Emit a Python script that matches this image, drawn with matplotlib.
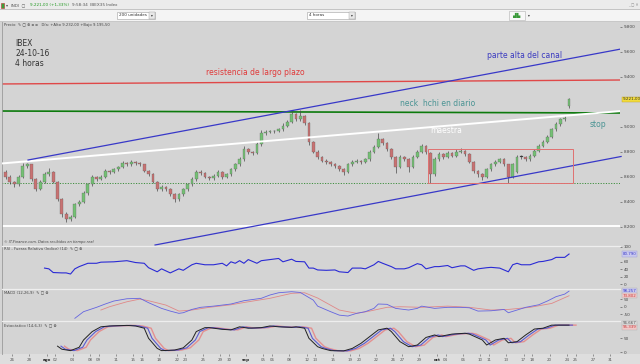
import matplotlib
matplotlib.use('Agg')
import matplotlib.pyplot as plt
from matplotlib.patches import Rectangle

# IBEX 35, 4 hour bars, 25 jul - 24 oct 2016
opens = [8640, 8600, 8560, 8540, 8600, 8690, 8700, 8580, 8500, 8560,
         8620, 8640, 8560, 8420, 8300, 8260, 8280, 8380, 8400, 8470,
         8540, 8600, 8580, 8600, 8650, 8640, 8660, 8680, 8710, 8700,
         8720, 8710, 8700, 8650, 8620, 8560, 8500, 8520, 8500, 8460,
         8420, 8460, 8500, 8540, 8580, 8640, 8630, 8600, 8590, 8610,
         8640, 8600, 8620, 8660, 8700, 8740, 8820, 8800, 8790, 8860,
         8950, 8960, 8965, 8970, 8980, 9010, 9040, 9100, 9060, 9090,
         9030, 8880, 8800, 8760, 8730, 8720, 8700, 8690, 8660, 8640,
         8700, 8720, 8730, 8720, 8740, 8800, 8840, 8900, 8870, 8820,
         8760, 8680, 8760, 8740, 8680, 8760, 8800, 8850, 8790, 8620,
         8740, 8780, 8760, 8790, 8770, 8800, 8810, 8780, 8720, 8650,
         8620, 8600, 8660, 8700, 8720, 8740, 8700, 8600, 8640, 8760,
         8760, 8740, 8770, 8810, 8850, 8880, 8920, 8980, 9020, 9060,
         9165]
highs = [8655, 8615, 8570, 8620, 8712, 8715, 8705, 8590, 8580, 8640,
         8672, 8650, 8565, 8430, 8320, 8300, 8395, 8420, 8490, 8555,
         8616, 8610, 8615, 8668, 8660, 8675, 8690, 8725, 8722, 8735,
         8730, 8720, 8705, 8660, 8630, 8570, 8540, 8530, 8510, 8470,
         8475, 8515, 8555, 8600, 8660, 8655, 8640, 8610, 8625, 8655,
         8650, 8635, 8672, 8715, 8760, 8850, 8830, 8810, 8880, 8976,
         8975, 8975, 8980, 8995, 9030, 9060, 9130, 9115, 9136, 9100,
         9040, 8890, 8815, 8770, 8745, 8730, 8710, 8700, 8670, 8715,
         8735, 8745, 8740, 8755, 8815, 8855, 8950, 8910, 8880, 8830,
         8770, 8780, 8770, 8750, 8775, 8815, 8868, 8860, 8800, 8760,
         8800, 8790, 8810, 8800, 8822, 8830, 8820, 8790, 8730, 8660,
         8630, 8675, 8715, 8735, 8755, 8750, 8705, 8710, 8775, 8780,
         8770, 8785, 8825, 8865, 8895, 8935, 8995, 9040, 9075, 9085,
         9232]
lows = [8585, 8545, 8520, 8530, 8590, 8675, 8570, 8490, 8495, 8550,
        8605, 8550, 8410, 8280, 8240, 8250, 8270, 8365, 8390, 8460,
        8530, 8570, 8575, 8590, 8625, 8630, 8650, 8672, 8690, 8692,
        8700, 8688, 8640, 8605, 8550, 8485, 8490, 8485, 8450, 8400,
        8410, 8450, 8492, 8530, 8570, 8615, 8590, 8575, 8580, 8600,
        8585, 8592, 8612, 8650, 8690, 8730, 8785, 8780, 8782, 8850,
        8940, 8950, 8955, 8960, 8970, 9000, 9030, 9045, 9050, 9020,
        8860, 8790, 8745, 8720, 8705, 8690, 8675, 8650, 8620, 8632,
        8690, 8710, 8708, 8712, 8730, 8790, 8830, 8855, 8805, 8745,
        8630, 8670, 8730, 8640, 8672, 8750, 8790, 8785, 8552, 8610,
        8730, 8745, 8752, 8760, 8762, 8790, 8770, 8710, 8635, 8600,
        8580, 8592, 8650, 8690, 8710, 8690, 8552, 8590, 8630, 8745,
        8730, 8732, 8762, 8800, 8840, 8870, 8910, 8970, 9010, 9050,
        9155]
closes = [8600, 8560, 8540, 8600, 8690, 8700, 8580, 8500, 8560, 8620,
          8640, 8560, 8420, 8300, 8260, 8280, 8380, 8400, 8470, 8540,
          8600, 8580, 8600, 8650, 8640, 8660, 8680, 8710, 8700, 8720,
          8710, 8700, 8650, 8620, 8560, 8500, 8520, 8500, 8460, 8420,
          8460, 8500, 8540, 8580, 8640, 8630, 8600, 8590, 8610, 8640,
          8600, 8620, 8660, 8700, 8740, 8820, 8800, 8790, 8860, 8950,
          8960, 8965, 8970, 8980, 9010, 9040, 9100, 9060, 9090, 9030,
          8880, 8800, 8760, 8730, 8720, 8700, 8690, 8660, 8640, 8700,
          8720, 8730, 8720, 8740, 8800, 8840, 8900, 8870, 8820, 8760,
          8680, 8760, 8740, 8680, 8760, 8800, 8850, 8800, 8620, 8740,
          8780, 8760, 8790, 8770, 8800, 8810, 8780, 8720, 8650, 8620,
          8600, 8660, 8700, 8720, 8740, 8700, 8600, 8700, 8760, 8760,
          8740, 8770, 8810, 8850, 8880, 8920, 8980, 9020, 9060, 9070,
          9221]

# indicators (bar index, value)
rsi_bar = [9, 10, 11, 13, 14, 15, 16, 17, 19, 21, 22, 25, 28, 30, 32, 33, 35, 36, 38, 40,
           41, 43, 44, 46, 48, 50, 51, 52, 53, 54, 55, 56, 58, 59, 61, 63, 64, 66, 67, 69,
           70, 71, 72, 74, 76, 77, 79, 80, 82, 83, 85, 86, 87, 89, 90, 92, 93, 95, 96, 97,
           99, 100, 102, 103, 105, 106, 108, 109, 111, 112, 114, 116, 117, 118, 119, 121,
           123, 124, 126, 127, 129, 130]
rsi_val = [43, 41, 31, 30, 30, 27, 41, 47, 56, 56, 59, 60, 63, 58, 56, 44, 33, 41, 30, 41,
           37, 52, 56, 52, 52, 56, 49, 60, 56, 63, 56, 66, 56, 63, 66, 69, 60, 67, 61, 60,
           43, 43, 38, 37, 38, 33, 31, 43, 43, 41, 52, 61, 56, 47, 41, 41, 44, 55, 52, 41,
           47, 47, 50, 44, 49, 49, 37, 41, 44, 45, 43, 33, 52, 56, 52, 52,
           60, 61, 66, 72, 72, 81]
macd_bar = [16, 18, 21, 23, 25, 28, 31, 33, 36, 38, 40, 41, 43, 45, 48, 52, 55, 59, 61, 63,
            66, 68, 69, 71, 72, 75, 77, 79, 81, 83, 85, 86, 88, 90, 93, 95, 96, 99, 102, 105,
            107, 109, 112, 115, 116, 118, 120, 123, 125, 127, 129, 130]
macd_val = [-77, -33, -4, 18, 38, 53, 56, 27, -11, -29, -44, -40, -18, -4, 4, 18, 40, 56, 78, 93,
            100, 95, 78, 44, 4, -33, -56, -62, -44, -33, -11, 18, 16, -11, -22, -11, 4, -11, -4, -4,
            -7, -29, -27, -18, -40, -22, -4, 13, 38, 67, 84, 104]
signal_bar = [22, 24, 28, 31, 33, 37, 40, 43, 47, 52, 56, 61, 66, 69, 72, 77, 81, 84, 88, 91,
              96, 102, 107, 112, 116, 121, 126, 130]
signal_val = [-22, 0, 33, 51, 40, 11, -29, -22, -4, 13, 33, 56, 89, 93, 58, -22, -44, -29, -4, 0,
              -4, 4, -4, -22, -18, -4, 22, 73]
stoch_bar = [12, 13, 15, 17, 18, 20, 22, 24, 28, 30, 32, 33, 35, 36, 39, 41, 43, 44, 46, 47,
             50, 52, 54, 56, 59, 61, 63, 66, 67, 69, 70, 72, 73, 75, 78, 80, 82, 84, 86, 88,
             89, 91, 93, 95, 97, 99, 100, 103, 106, 107, 110, 111, 113, 115, 116, 118, 120, 122,
             124, 126, 130]
stoch_val = [21, 10, 5, 17, 43, 73, 90, 93, 95, 93, 85, 49, 13, 5, 7, 15, 43, 73, 87, 87,
             81, 79, 90, 85, 87, 93, 90, 88, 90, 85, 49, 19, 13, 5, 4, 13, 31, 55, 79, 85,
             73, 37, 19, 25, 52, 61, 55, 64, 67, 64, 43, 25, 43, 49, 33, 37, 61, 82,
             85, 96, 96]

# x axis labels: trading day number (2 bars a day) and text
date_day = [1, 3, 5, 6, 8, 10, 11, 13, 15, 16, 18, 20, 21, 23, 25, 26, 28, 30, 31, 33,
            35, 36, 38, 40, 41, 43, 45, 46, 48, 50, 51, 53, 55, 56, 58, 60, 61, 63, 65, 66, 68, 70]
date_text = ['26', '28', 'ago', '02', '04', '08', '09', '11', '15', '16', '18', '22', '23', '25',
             '29', '30', 'sep', '05', '06', '08', '12', '13', '15', '19', '20', '22', '26', '27',
             '29', 'oct', '04', '06', '10', '11', '13', '17', '18', '20', '24', '25', '27', '31']
months = ['ago', 'sep', 'oct']

# hand drawn lines: (bar, price) start and end
resistencia = [(-2, 9344), (142, 9376)]
neck = [(-2, 9128), (142, 9112)]
maestra = [(-2, 8705), (142, 9128)]
canal_alto = [(5.2, 8736), (142, 9624)]
canal_bajo = [(34.5, 8056), (142, 8764)]
soporte_blanco = [(-2, 8210), (142, 8210)]
stop_level = [(-2, 8552), (142, 8552)]
caja = [(97.4, 8552), (131, 8824)]

price_ticks = [8200, 8400, 8600, 8800, 9000, 9400, 9600, 9800]

W, H = 640, 364
BG = '#d4d4d4'
ICONS = '✎ ▢ ⊗'
fig = plt.figure(figsize=(6.4, 3.64), dpi=100)
fig.patch.set_facecolor(BG)


def box(x0, y0, x1, y1):
    return [x0 / W, 1 - y1 / H, (x1 - x0) / W, (y1 - y0) / H]


def band(y0, y1, color, x0=0, x1=W):
    fig.add_artist(Rectangle((x0 / W, 1 - y1 / H), (x1 - x0) / W, (y1 - y0) / H,
                             transform=fig.transFigure, facecolor=color, edgecolor='none', zorder=0))


def ftext(x, y, s, **kw):
    fig.text(x / W, 1 - y / H, s, va='center', **kw)


# toolbar
band(0, 9, '#ebebeb')
band(9, 10, '#c4c4c4')
band(10, 21, '#f4f4f4')
band(21, 22, '#c8c8c8')
band(354, 364, '#dedede')
fig.add_artist(Rectangle((1 / W, 1 - 8 / H), 3 / W, 5 / H, transform=fig.transFigure,
                         facecolor='#3aa03a', edgecolor='#c03030', lw=0.4))
ftext(6, 5, '▾  INDI  ▢', fontsize=3.0, color='#555555')
ftext(30, 5, '9.221,00 (+1,33%)', fontsize=3.0, color='#229922')
ftext(72, 5, '9:58:34  IBEX35 Index', fontsize=3.0, color='#555555')
ftext(633, 5, '_ ▢ ✕', fontsize=2.6, color='#888888', ha='center')
for x0, x1, label in [(117, 155, '200 unidades'), (307, 355, '4 horas')]:
    fig.add_artist(Rectangle((x0 / W, 1 - 19 / H), (x1 - x0) / W, 7 / H, transform=fig.transFigure,
                             facecolor='white', edgecolor='#a0a0a0', lw=0.4))
    fig.add_artist(Rectangle(((x1 - 6) / W, 1 - 18.5 / H), 5.5 / W, 6 / H, transform=fig.transFigure,
                             facecolor='#e8e8e8', edgecolor='#a0a0a0', lw=0.3))
    ftext(x0 + 2, 15.5, label, fontsize=3.0, color='#333333')
    ftext(x1 - 3.3, 15.5, '▾', fontsize=2.6, color='#333333', ha='center')
fig.add_artist(Rectangle((509 / W, 1 - 20 / H), 16 / W, 9 / H, transform=fig.transFigure,
                         facecolor='#f8f8f8', edgecolor='#b0b0b0', lw=0.4))
ftext(517, 15.5, '▟▙', fontsize=3.4, color='#3a9a3a', ha='center')
ftext(528, 15.5, '▾', fontsize=2.6, color='#333333')

X0, X1 = 2, 620
BAR0, PX_BAR = 5.5, 4.335
xlim = ((X0 - BAR0) / PX_BAR, (X1 - BAR0) / PX_BAR)

ax = fig.add_axes(box(X0, 22, X1, 246))
rsi_ax = fig.add_axes(box(X0, 246, X1, 288))
macd_ax = fig.add_axes(box(X0, 289, X1, 321))
sto_ax = fig.add_axes(box(X0, 321, X1, 354))

for a in (ax, rsi_ax, macd_ax, sto_ax):
    a.set_facecolor(BG)
    a.set_xlim(*xlim)
    for s in a.spines.values():
        s.set_visible(False)
    a.spines['left'].set_visible(True)
    a.spines['left'].set_color('#9a9a9a')
    a.spines['left'].set_linewidth(0.6)
    a.spines['top'].set_visible(True)
    a.spines['top'].set_color('#eeeeee')
    a.spines['top'].set_linewidth(0.9)
    a.yaxis.tick_right()
    a.tick_params(axis='y', length=1.5, width=0.4, pad=1, labelsize=3.0,
                  colors='#444444', direction='out')
    a.tick_params(axis='x', length=0, labelbottom=False)
ax.spines['top'].set_visible(False)

# ---- main price panel ----
ax.set_ylim(8048, 9840)
idx = list(range(len(closes)))
bottoms, heights, colors = [], [], []
for o, c in zip(opens, closes):
    bottoms.append(min(o, c))
    heights.append(max(abs(c - o), 5))
    colors.append('#74c074' if c > o else ('#c87272' if c < o else '#303030'))
ax.vlines(idx, lows, highs, color='#4a4a4a', lw=0.5, zorder=3)
ax.bar(idx, heights, bottom=bottoms, width=0.64, color=colors, edgecolor='#5a5a5a',
       linewidth=0.2, zorder=4)

ax.plot(*zip(*soporte_blanco), color='white', lw=1.4, zorder=2)
ax.plot(*zip(*stop_level), color='#3f8f3f', lw=0.7, ls=(0, (1.2, 1.5)), zorder=2)
ax.plot(*zip(*resistencia), color='#e04848', lw=1.0, zorder=2)
ax.plot(*zip(*neck), color='#0d7a0d', lw=1.2, zorder=2)
ax.plot(*zip(*maestra), color='white', lw=1.4, zorder=5)
ax.plot(*zip(*canal_alto), color='#3838c8', lw=0.9, zorder=5)
ax.plot(*zip(*canal_bajo), color='#3838c8', lw=0.9, zorder=5, clip_on=False)
(bx0, by0), (bx1, by1) = caja
ax.add_patch(Rectangle((bx0, by0), bx1 - bx0, by1 - by0, fill=False, edgecolor='#e07070',
                       lw=0.7, zorder=5))

ax.set_yticks(price_ticks)
ax.set_yticklabels(['{:,}'.format(t).replace(',', '.') for t in price_ticks])
ax.text(1.004, 9221, '9.221,00', transform=ax.get_yaxis_transform(), fontsize=3.0,
        color='#333333', va='center', ha='left', clip_on=False,
        bbox=dict(boxstyle='square,pad=0.15', facecolor='#f2dc3c', edgecolor='#c0a020', lw=0.3))

ann = dict(fontsize=5.5, va='center', zorder=6)
ax.text(2.2, 9664, 'IBEX', color='#333333', **ann)
ax.text(2.2, 9584, '24-10-16', color='#333333', **ann)
ax.text(2.2, 9504, '4 horas', color='#333333', **ann)
ax.text(57.6, 9436, 'resistencia de largo plazo', color='#e03a3a', ha='center', **ann)
ax.text(111, 9568, 'parte alta del canal', color='#3a3ac0', **ann)
ax.text(91, 9184, 'neck  hchi en diario', color='#4a9494', **ann)
ax.text(97.9, 8968, 'maestra', color='white', **ann)
ax.text(134.8, 9016, 'stop', color='#4a9494', **ann)
ax.text(-0.3, 8078, '© IT-Finance.com. Datos recibidos en tiempo real', fontsize=2.6,
        style='italic', color='#444444', va='center')
ax.text(-0.3, 9815, 'Precio  ' + ICONS + ' ▫ ▫   Día: +Alto 9.232,00 +Bajo 9.195,50',
        fontsize=2.7, color='#444444', va='center')

# ---- RSI ----
rsi_ax.set_ylim(-10.8, 102.7)
rsi_ax.plot(rsi_bar, rsi_val, color='#2a2ad4', lw=0.8)
rsi_ax.set_yticks([0, 20, 40, 60, 100])
rsi_ax.text(1.004, 80.8, '80.790', transform=rsi_ax.get_yaxis_transform(), fontsize=2.9,
            color='#3a3ac8', va='center', clip_on=False,
            bbox=dict(boxstyle='square,pad=0.15', facecolor='#c9c9ee', edgecolor='#9a9ad8', lw=0.3))
rsi_ax.text(-0.3, 95, 'RSI - Fuerza Relativa (Indice) (14)  ' + ICONS, fontsize=2.7,
            color='#444444', va='center')

# ---- MACD ----
macd_ax.set_ylim(-95, 118)
macd_ax.plot(signal_bar, signal_val, color='#e08888', lw=0.6)
macd_ax.plot(macd_bar, macd_val, color='#6464e0', lw=0.6)
macd_ax.set_yticks([-50, 0, 50])
macd_ax.set_yticklabels(['-50', '0', '50'])
for v, s, fc, tc in [(104, '98.257', '#c9c9ee', '#3a3ac8'), (73, '73.802', '#f0c8c8', '#c83a3a')]:
    macd_ax.text(1.004, v, s, transform=macd_ax.get_yaxis_transform(), fontsize=2.9, color=tc,
                 va='center', clip_on=False,
                 bbox=dict(boxstyle='square,pad=0.15', facecolor=fc, edgecolor='#b0b0b0', lw=0.3))
macd_ax.text(-0.3, 95, 'MACD (12,26,9)  ' + ICONS, fontsize=2.7, color='#444444', va='center')

# ---- Estocastico ----
sto_ax.set_ylim(-7, 110.7)
sto_ax.plot([b + 1.6 for b in stoch_bar], stoch_val, color='#e49090', lw=1.0)
sto_ax.plot([b + 0.8 for b in stoch_bar], stoch_val, color='#5a5ad0', lw=0.8)
sto_ax.plot(stoch_bar, stoch_val, color='#222222', lw=0.7)
sto_ax.set_yticks([0, 50])
for v, s, fc, tc in [(102, '96.667', '#dcdcdc', '#555555'), (88, '95.339', '#f0c8c8', '#c83a3a')]:
    sto_ax.text(1.004, v, s, transform=sto_ax.get_yaxis_transform(), fontsize=2.9, color=tc,
                va='center', clip_on=False,
                bbox=dict(boxstyle='square,pad=0.15', facecolor=fc, edgecolor='#b0b0b0', lw=0.3))
sto_ax.text(-0.3, 96, 'Estocástico (14,6,3)  ' + ICONS, fontsize=2.7, color='#444444', va='center')

sto_ax.set_xticks([2 * d - 0.5 for d in date_day])
sto_ax.set_xticklabels(date_text)
sto_ax.tick_params(axis='x', length=1.5, width=0.4, pad=1.2, labelsize=2.9, colors='#555555',
                   labelbottom=True, direction='out')
for lab in sto_ax.get_xticklabels():
    if lab.get_text() in months:
        lab.set_fontweight('bold')
        lab.set_color('#222222')

fig.savefig('out.png', dpi=100, facecolor=fig.get_facecolor())
